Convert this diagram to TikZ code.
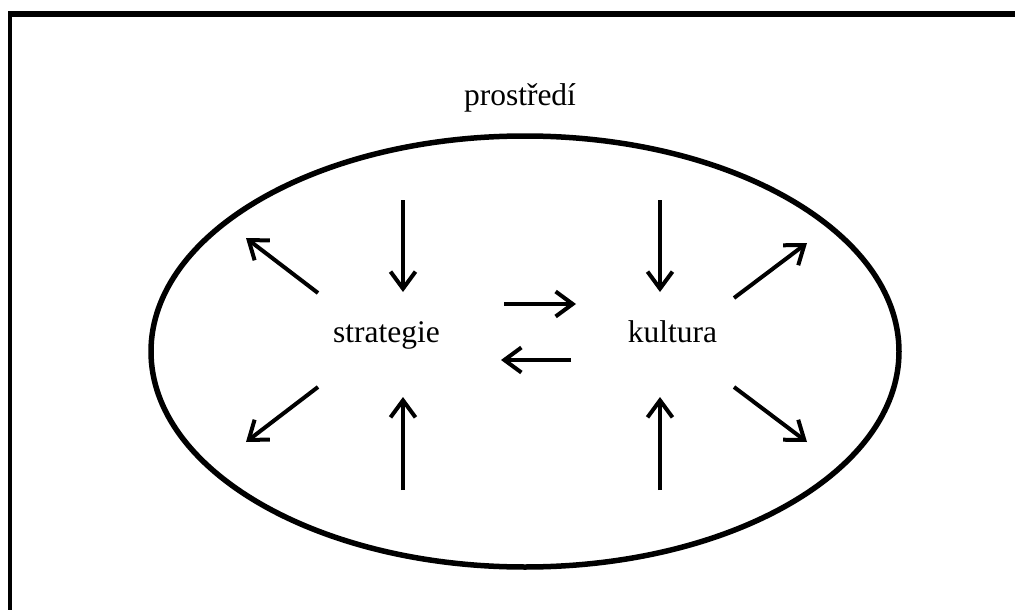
\documentclass[tikz,border=0pt]{standalone}
\usepackage{fontspec}
\setmainfont{Liberation Serif}
\usetikzlibrary{arrows.meta}

\tikzset{
  pijl/.style={black, line width=4pt, -{Straight Barb[length=17pt,width=25pt]}},
  label/.style={anchor=base, inner sep=0pt, font=\fontsize{31.5}{36}\selectfont}
}

\begin{document}
\begin{tikzpicture}[x=1pt, y=-1pt]
                \useasboundingbox (0, 0) rectangle (1015, 610);
                % frame
                \draw [black, line width=6pt] (8, 14.5) -- (1015, 14.5);
                \draw [black, line width=4pt] (10, 12) -- (10, 610);
                % environment
                \draw [black, line width=5.5pt] (525, 351.5) ellipse (374 and 215.5);
                \node [label] (prostredi) at (520, 105) {prostředí};
                \node [label] (strategie) at (386.5, 342) {strategie};
                \node [label] (kultura) at (672.5, 342) {kultura};
                % strategie
                \draw [pijl] (403, 200) -- (403, 292);
                \draw [pijl] (403, 490) -- (403, 397);
                \draw [pijl] (318, 293) -- (246, 238);
                \draw [pijl] (318, 387) -- (246, 442);
                % kultura
                \draw [pijl] (660, 200) -- (660, 292);
                \draw [pijl] (660, 490) -- (660, 397);
                \draw [pijl] (734, 298) -- (807, 243);
                \draw [pijl] (734, 387) -- (807, 442);
                % between
                \draw [pijl] (504, 304) -- (576, 304);
                \draw [pijl] (571, 360) -- (501, 360);
            \end{tikzpicture}
\end{document}
